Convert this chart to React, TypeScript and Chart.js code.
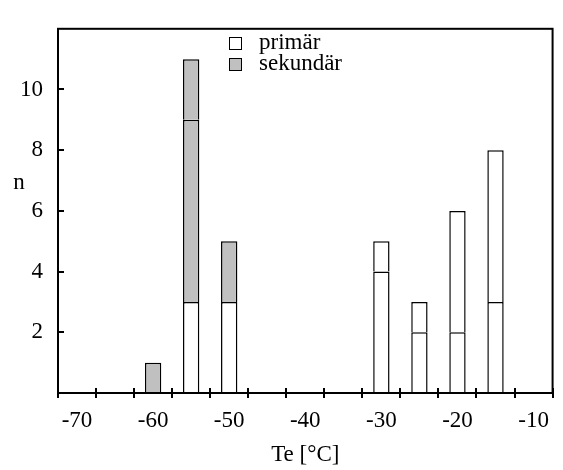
import React, { useEffect, useRef } from "react";
import { Chart, registerables } from "chart.js";

Chart.register(...registerables);

const categories = ["-70", "-65", "-60", "-55", "-50", "-45", "-40", "-35", "-30", "-25", "-20", "-15", "-10"];
const primarLower = [null, null, null, 3, 3, null, null, null, 4, 2, 2, 3, null];
const sekundarLower = [null, null, 1, 6, 2, null, null, null, null, null, null, null, null];
const sekundarUpper = [null, null, null, 2, null, null, null, null, null, null, null, null, null];
const primarUpper = [null, null, null, null, null, null, null, null, 1, 1, 4, 5, null];
const yTicks = [2, 4, 6, 8, 10];
const legendLabels = ["primär", "sekundär"];

const FONT = "'Liberation Serif', 'Times New Roman', serif";
const FS = 23;

const framePlugin = {
  id: "frameAndExtras",
  afterDraw(chart: any) {
    const { ctx, chartArea } = chart;
    const x = chart.scales.x;
    const y = chart.scales.y;
    ctx.save();
    ctx.strokeStyle = "#000";
    ctx.lineWidth = 2;
    ctx.strokeRect(chartArea.left, chartArea.top, chartArea.right - chartArea.left, chartArea.bottom - chartArea.top);
    const step = x.getPixelForValue(1) - x.getPixelForValue(0);
    const base = chartArea.bottom;
    ctx.beginPath();
    for (let i = 0; i <= categories.length; i++) {
      const px = Math.round(x.getPixelForValue(0) + (i - 0.5) * step);
      ctx.moveTo(px, base - 5);
      ctx.lineTo(px, base + 5);
    }
    for (const v of yTicks) {
      const py = Math.round(y.getPixelForValue(v));
      ctx.moveTo(chartArea.left, py);
      ctx.lineTo(chartArea.left + 6, py);
    }
    ctx.stroke();
    ctx.fillStyle = "#000";
    ctx.font = `${FS}px ${FONT}`;
    ctx.textAlign = "center";
    ctx.textBaseline = "alphabetic";
    ctx.fillText("n", 19, 189);
    const boxes = [
      { label: legendLabels[0], fill: "#ffffff", y: 37 },
      { label: legendLabels[1], fill: "#c0c0c0", y: 58 },
    ];
    ctx.textAlign = "left";
    ctx.lineWidth = 1;
    for (const b of boxes) {
      ctx.fillStyle = b.fill;
      ctx.fillRect(229.5, b.y + 0.5, 12, 12);
      ctx.strokeStyle = "#000";
      ctx.strokeRect(229.5, b.y + 0.5, 12, 12);
      ctx.fillStyle = "#000";
      ctx.fillText(b.label, 259, b.y + 12);
    }
    ctx.restore();
  },
};

export default function App() {
  const ref = useRef<HTMLCanvasElement | null>(null);
  useEffect(() => {
    if (!ref.current) return;
    const common = {
      borderColor: "#000",
      borderWidth: 1.5,
      barPercentage: 0.43,
      categoryPercentage: 1,
    };
    const chart = new Chart(ref.current, {
      type: "bar",
      data: {
        labels: categories,
        datasets: [
          { label: "primär", data: primarLower, backgroundColor: "#ffffff", ...common },
          { label: "sekundär", data: sekundarLower, backgroundColor: "#c0c0c0", ...common },
          { label: "sekundär ", data: sekundarUpper, backgroundColor: "#c0c0c0", ...common },
          { label: "primär ", data: primarUpper, backgroundColor: "#ffffff", ...common },
        ],
      },
      options: {
        animation: false,
        responsive: false,
        devicePixelRatio: 1,
        layout: { padding: { top: 12, right: 3, left: 0, bottom: 0 } },
        plugins: { legend: { display: false }, tooltip: { enabled: false }, title: { display: false } },
        scales: {
          x: {
            stacked: true,
            offset: true,
            grid: { display: false, drawTicks: false },
            border: { display: false },
            ticks: {
              autoSkip: false,
              maxRotation: 0,
              padding: 14,
              color: "#000",
              font: { family: FONT, size: FS },
              callback: function (this: any, value: any, index: number) {
                return index % 2 === 0 ? this.getLabelForValue(value) : "";
              },
            },
            title: {
              display: true,
              text: "Te [°C]",
              color: "#000",
              font: { family: FONT, size: FS },
              padding: { top: 0, bottom: 1 },
            },
            afterFit: (s: any) => {
              s.height = 77;
            },
          },
          y: {
            stacked: true,
            min: 0,
            max: 12,
            grid: { display: false, drawTicks: false },
            border: { display: false },
            ticks: {
              stepSize: 2,
              padding: 15,
              color: "#000",
              font: { family: FONT, size: FS },
              callback: (v: any) => (yTicks.includes(Number(v)) ? String(v) : ""),
            },
            afterFit: (s: any) => {
              s.width = 58;
            },
          },
        },
      },
      plugins: [framePlugin],
    });
    return () => chart.destroy();
  }, []);
  return (
    <div style={{ position: "absolute", left: 0, top: 0, width: 563, height: 470, background: "#fff" }}>
      <canvas ref={ref} width={563} height={470} />
    </div>
  );
}
